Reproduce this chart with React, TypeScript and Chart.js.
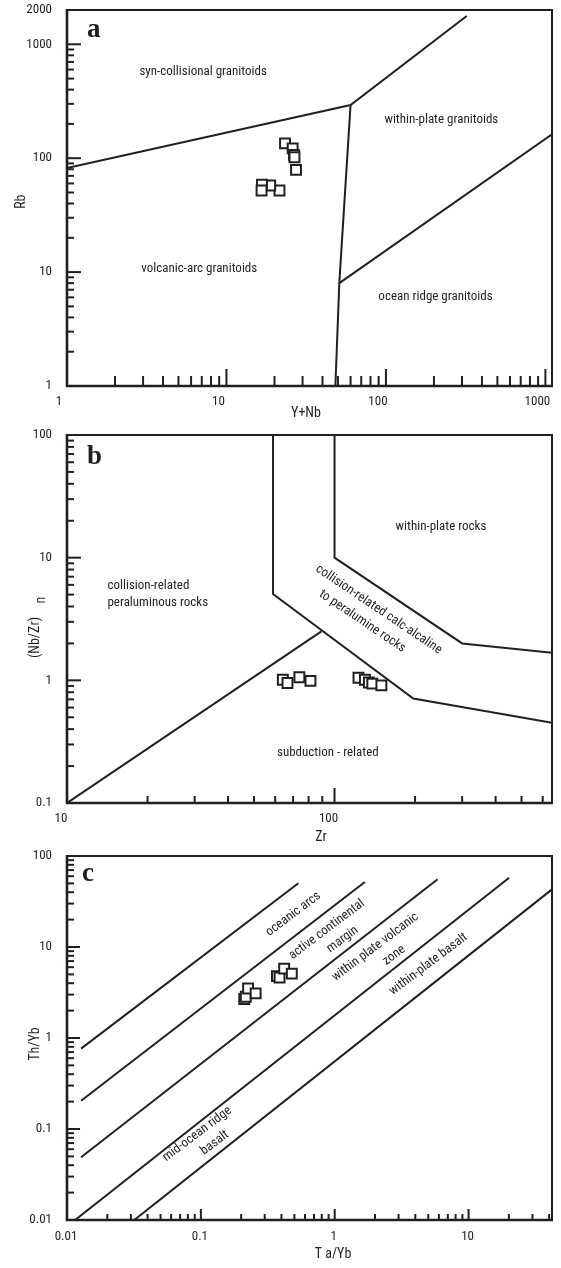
import React, { useEffect, useRef } from 'react';
import { Chart, registerables } from 'chart.js';

Chart.register(...registerables);

const INK = '#231f20';
const SANS = "'Liberation Sans Narrow', 'Roboto Condensed', 'DejaVu Sans Condensed', 'Noto Sans', sans-serif";
const SERIF = "'Liberation Serif', 'DejaVu Serif', 'Times New Roman', serif";

// ---------------- Panel a : Rb vs Y+Nb ----------------
const aSampleYNb = [21.5, 18.8, 16.7, 16.6, 23.3, 26.0, 26.5, 26.7, 27.3];
const aSampleRb = [52.1, 57.5, 58.4, 52.1, 135, 122, 107, 102, 79];
const aLineSynColg: [number, number][] = [[1, 82], [60, 293], [321, 1770]];
const aLineVagWpg: [number, number][] = [[60, 293], [51, 8], [48.2, 1]];
const aLineOrgWpg: [number, number][] = [[51, 8], [1100, 162]];
const aXTickValues = [1, 10, 100, 1000];
const aXTickLabels = ['1', '10', '100', '1000'];
const aYTickValues = [1, 10, 100, 1000, 2000];
const aYTickLabels = ['1', '10', '100', '1000', '2000'];
const aRegionNames = ['syn-collisional granitoids', 'within-plate granitoids', 'volcanic-arc granitoids', 'ocean ridge granitoids'];
const aRegionX = [7.14, 222.6, 6.75, 204.5];
const aRegionY = [572, 218, 10.7, 6.07];

// ---------------- Panel b : (Nb/Zr)n vs Zr ----------------
const bSampleZr = [64.1, 66.7, 73.9, 81.3, 122.9, 129.9, 134.4, 138.4, 149.7];
const bSampleNbZr = [1.01, 0.95, 1.06, 0.99, 1.05, 1.01, 0.96, 0.94, 0.91];
const bLineCollision: [number, number][] = [[58.9, 100], [58.9, 5.05], [197, 0.71], [650, 0.45]];
const bLineWithinPlate: [number, number][] = [[100, 100], [100, 10], [300, 2], [650, 1.68]];
const bLineSubduction: [number, number][] = [[10, 0.1], [89.3, 2.51]];
const bXTickValues = [10, 100];
const bXTickLabels = ['10', '100'];
const bYTickValues = [0.1, 1, 10, 100];
const bYTickLabels = ['0.1', '1', '10', '100'];
const bRegionNames = ['collision-related', 'peraluminous rocks', 'within-plate rocks', 'subduction - related', 'collision-related calc-alcaline', 'to peralumine rocks'];
const bRegionX = [14.16, 14.16, 250, 94.4, 146.3, 127];
const bRegionY = [5.89, 4.27, 17.7, 0.257, 3.77, 3.03];

// ---------------- Panel c : Th/Yb vs Ta/Yb ----------------
const cSampleTaYb = [0.211, 0.2165, 0.2254, 0.2566, 0.37, 0.387, 0.419, 0.478];
const cSampleThYb = [2.68, 2.84, 3.5, 3.09, 4.78, 4.62, 5.78, 5.1];
const cLine1: [number, number][] = [[0.01274, 0.764], [0.535, 50.1]];
const cLine2: [number, number][] = [[0.01274, 0.204], [1.68, 51.9]];
const cLine3: [number, number][] = [[0.01274, 0.049], [5.87, 55.5]];
const cLine4: [number, number][] = [[0.0115, 0.01], [20.1, 57.8]];
const cLine5: [number, number][] = [[0.0318, 0.01], [42, 43]];
const cXTickValues = [0.01, 0.1, 1, 10];
const cXTickLabels = ['0.01', '0.1', '1', '10'];
const cYTickValues = [0.01, 0.1, 1, 10, 100];
const cYTickLabels = ['0.01', '0.1', '1', '10', '100'];
const cRegionNames = ['oceanic arcs', 'active continental', 'margin', 'within plate volcanic', 'zone', 'within-plate basalt', 'mid-ocean ridge', 'basalt'];
const cRegionX = [0.491, 0.873, 1.145, 2.01, 2.78, 5.02, 0.094, 0.127];
const cRegionY = [23.0, 15.6, 12.1, 9.98, 8.1, 6.46, 0.0881, 0.0703];

type Txt = { text: string; x: number; y: number; angle: number; align: CanvasTextAlign };
type Title = { text: string; x: number; y: number; rot: number };
type Panel = {
  top: number; height: number; padTop: number; xAxisH: number;
  xMin: number; xMax: number; yMin: number; yMax: number;
  xTicks: number[]; xLabels: string[]; yTicks: number[]; yLabels: string[];
  xLabelOffset: number; xLabelPad: number;
  samples: { x: number; y: number }[];
  lines: [number, number][][];
  texts: Txt[];
  letter: string; letterDx: number; letterDy: number;
  titles: Title[];
  tick: { xMajor: number; xMinor: number; yMajor: number; yMinor: number; xMaxTick: number; yMaxTick: number };
};

const zipPts = (xs: number[], ys: number[]) => xs.map((x, i) => ({ x, y: ys[i] }));
const mkTexts = (names: string[], xs: number[], ys: number[], angles: number[], aligns: CanvasTextAlign[]) =>
  names.map((text, i) => ({ text, x: xs[i], y: ys[i], angle: angles[i] || 0, align: aligns[i] || 'center' }));

const panelA: Panel = {
  top: 0, height: 426, padTop: 10, xAxisH: 40,
  xMin: 1, xMax: 1100, yMin: 1, yMax: 2000,
  xTicks: aXTickValues, xLabels: aXTickLabels, yTicks: aYTickValues, yLabels: aYTickLabels,
  xLabelOffset: -8, xLabelPad: 8,
  samples: zipPts(aSampleYNb, aSampleRb),
  lines: [aLineSynColg, aLineVagWpg, aLineOrgWpg],
  texts: mkTexts(aRegionNames, aRegionX, aRegionY, [], []),
  letter: 'a', letterDx: 20, letterDy: 27,
  titles: [
    { text: 'Y+Nb', x: 306, y: 413.5, rot: 0 },
    { text: 'Rb', x: 21.7, y: 201.7, rot: -90 },
  ],
  tick: { xMajor: 17, xMinor: 10, yMajor: 14, yMinor: 7, xMaxTick: 1000, yMaxTick: 1000 },
};

const panelB: Panel = {
  top: 426, height: 421, padTop: 7, xAxisH: 44,
  xMin: 10, xMax: 650, yMin: 0.1, yMax: 100,
  xTicks: bXTickValues, xLabels: bXTickLabels, yTicks: bYTickValues, yLabels: bYTickLabels,
  xLabelOffset: -6, xLabelPad: 8,
  samples: zipPts(bSampleZr, bSampleNbZr),
  lines: [bLineCollision, bLineWithinPlate, bLineSubduction],
  texts: mkTexts(bRegionNames, bRegionX, bRegionY, [0, 0, 0, 0, 34, 34], ['left', 'left', 'center', 'center', 'center', 'center']),
  letter: 'b', letterDx: 20, letterDy: 29,
  titles: [
    { text: 'Zr', x: 321, y: 837, rot: 0 },
    { text: '(Nb/Zr)', x: 35, y: 637.5, rot: -90 },
    { text: 'n', x: 41.7, y: 600, rot: -90 },
  ],
  tick: { xMajor: 15, xMinor: 7, yMajor: 14, yMinor: 7, xMaxTick: 1e9, yMaxTick: 1e9 },
};

const panelC: Panel = {
  top: 847, height: 421, padTop: 5, xAxisH: 48,
  xMin: 0.01, xMax: 42, yMin: 0.01, yMax: 100,
  xTicks: cXTickValues, xLabels: cXTickLabels, yTicks: cYTickValues, yLabels: cYTickLabels,
  xLabelOffset: -1, xLabelPad: 9,
  samples: zipPts(cSampleTaYb, cSampleThYb),
  lines: [cLine1, cLine2, cLine3, cLine4, cLine5],
  texts: mkTexts(cRegionNames, cRegionX, cRegionY, [-37, -37, -37, -37, -37, -37, -37, -37], []),
  letter: 'c', letterDx: 15, letterDy: 25,
  titles: [
    { text: 'T a/Yb', x: 333, y: 1254, rot: 0 },
    { text: 'Th/Yb', x: 35, y: 1044, rot: -90 },
  ],
  tick: { xMajor: 11, xMinor: 6, yMajor: 13, yMinor: 7, xMaxTick: 1e9, yMaxTick: 1e9 },
};

function makeDecor(p: Panel) {
  return {
    id: 'panelDecor',
    afterDatasetsDraw(chart: any) {
      const { ctx, chartArea: ca, scales } = chart;
      const xs = scales.x;
      const ys = scales.y;
      ctx.save();
      ctx.strokeStyle = INK;
      ctx.fillStyle = INK;
      ctx.lineCap = 'butt';
      // frame
      ctx.lineWidth = 2;
      ctx.strokeRect(ca.left, ca.top, ca.right - ca.left, ca.bottom - ca.top);
      ctx.lineWidth = 2.6;
      ctx.beginPath();
      ctx.moveTo(ca.left, ca.top - 1);
      ctx.lineTo(ca.left, ca.bottom);
      ctx.lineTo(ca.right + 1, ca.bottom);
      ctx.stroke();
      // inward log ticks
      ctx.lineWidth = 2;
      const drawTicks = (scale: any, maxTick: number, major: number, minor: number, horizontal: boolean) => {
        const lo = Math.floor(Math.log10(scale.min) + 1e-9);
        const hi = Math.ceil(Math.log10(scale.max));
        const limit = Math.min(scale.max, maxTick) * 1.001;
        for (let k = lo; k <= hi; k++) {
          for (let m = 1; m <= 9; m++) {
            const v = m * Math.pow(10, k);
            if (v < scale.min * 0.999 || v > limit) continue;
            const len = m === 1 ? major : minor;
            const pix = scale.getPixelForValue(v);
            ctx.beginPath();
            if (horizontal) {
              ctx.moveTo(pix, ca.bottom);
              ctx.lineTo(pix, ca.bottom - len);
            } else {
              ctx.moveTo(ca.left, pix);
              ctx.lineTo(ca.left + len, pix);
            }
            ctx.stroke();
          }
        }
      };
      drawTicks(xs, p.tick.xMaxTick, p.tick.xMajor, p.tick.xMinor, true);
      drawTicks(ys, p.tick.yMaxTick, p.tick.yMajor, p.tick.yMinor, false);
      // region labels
      ctx.font = `13px ${SANS}`;
      for (const t of p.texts) {
        ctx.save();
        ctx.translate(xs.getPixelForValue(t.x), ys.getPixelForValue(t.y));
        ctx.rotate((t.angle * Math.PI) / 180);
        ctx.textAlign = t.align;
        ctx.textBaseline = 'middle';
        ctx.fillText(t.text, 0, 0);
        ctx.restore();
      }
      // panel letter
      ctx.font = `bold 27px ${SERIF}`;
      ctx.textAlign = 'left';
      ctx.textBaseline = 'alphabetic';
      ctx.fillText(p.letter, ca.left + p.letterDx, ca.top + p.letterDy);
      // axis titles
      ctx.font = `14px ${SANS}`;
      for (const ti of p.titles) {
        ctx.save();
        ctx.translate(ti.x, ti.y - p.top);
        ctx.rotate((ti.rot * Math.PI) / 180);
        ctx.textAlign = 'center';
        ctx.textBaseline = 'middle';
        ctx.fillText(ti.text, 0, 0);
        ctx.restore();
      }
      ctx.restore();
    },
  };
}

function buildConfig(p: Panel): any {
  const tickFont = { family: SANS, size: 13 };
  return {
    type: 'scatter',
    data: {
      datasets: [
        {
          label: 'samples',
          data: p.samples,
          pointStyle: 'rect',
          pointRadius: 7,
          borderWidth: 2,
          borderColor: INK,
          backgroundColor: '#ffffff',
          showLine: false,
          order: 0,
        },
        ...p.lines.map((ln, i) => ({
          label: 'boundary ' + i,
          data: ln.map(([x, y]) => ({ x, y })),
          showLine: true,
          pointRadius: 0,
          borderColor: INK,
          borderWidth: 2,
          fill: false,
          tension: 0,
          order: 1,
        })),
      ],
    },
    options: {
      responsive: false,
      animation: false,
      events: [],
      layout: { padding: { top: p.padTop, left: 0, right: 1, bottom: 0 } },
      plugins: { legend: { display: false }, tooltip: { enabled: false } },
      scales: {
        x: {
          type: 'logarithmic',
          position: 'bottom',
          min: p.xMin,
          max: p.xMax,
          grid: { display: false, drawTicks: false },
          border: { display: false },
          title: { display: false },
          ticks: {
            autoSkip: false,
            maxRotation: 0,
            minRotation: 0,
            padding: p.xLabelPad,
            labelOffset: p.xLabelOffset,
            color: INK,
            font: tickFont,
            callback: (_v: any, i: number) => p.xLabels[i],
          },
          afterBuildTicks: (s: any) => {
            s.ticks = p.xTicks.map((v) => ({ value: v }));
          },
          afterFit: (s: any) => {
            s.height = p.xAxisH;
            s.paddingLeft = 0;
            s.paddingRight = 0;
          },
        },
        y: {
          type: 'logarithmic',
          position: 'left',
          min: p.yMin,
          max: p.yMax,
          grid: { display: false, drawTicks: false },
          border: { display: false },
          title: { display: false },
          ticks: {
            autoSkip: false,
            padding: 15,
            color: INK,
            font: tickFont,
            callback: (_v: any, i: number) => p.yLabels[i],
          },
          afterBuildTicks: (s: any) => {
            s.ticks = p.yTicks.map((v) => ({ value: v }));
          },
          afterFit: (s: any) => {
            s.width = 67;
            s.paddingTop = 0;
            s.paddingBottom = 0;
          },
        },
      },
    },
    plugins: [makeDecor(p)],
  };
}

function PanelChart({ panel }: { panel: Panel }) {
  const ref = useRef<HTMLCanvasElement>(null);
  useEffect(() => {
    if (!ref.current) return;
    const chart = new Chart(ref.current, buildConfig(panel));
    return () => chart.destroy();
  }, [panel]);
  return (
    <canvas
      ref={ref}
      width={561}
      height={panel.height}
      style={{ position: 'absolute', left: 0, top: panel.top, width: 561, height: panel.height, display: 'block' }}
    />
  );
}

export default function App() {
  return (
    <div style={{ position: 'absolute', left: 0, top: 0, width: 561, height: 1268, overflow: 'hidden', background: '#ffffff' }}>
      <PanelChart panel={panelA} />
      <PanelChart panel={panelB} />
      <PanelChart panel={panelC} />
    </div>
  );
}
